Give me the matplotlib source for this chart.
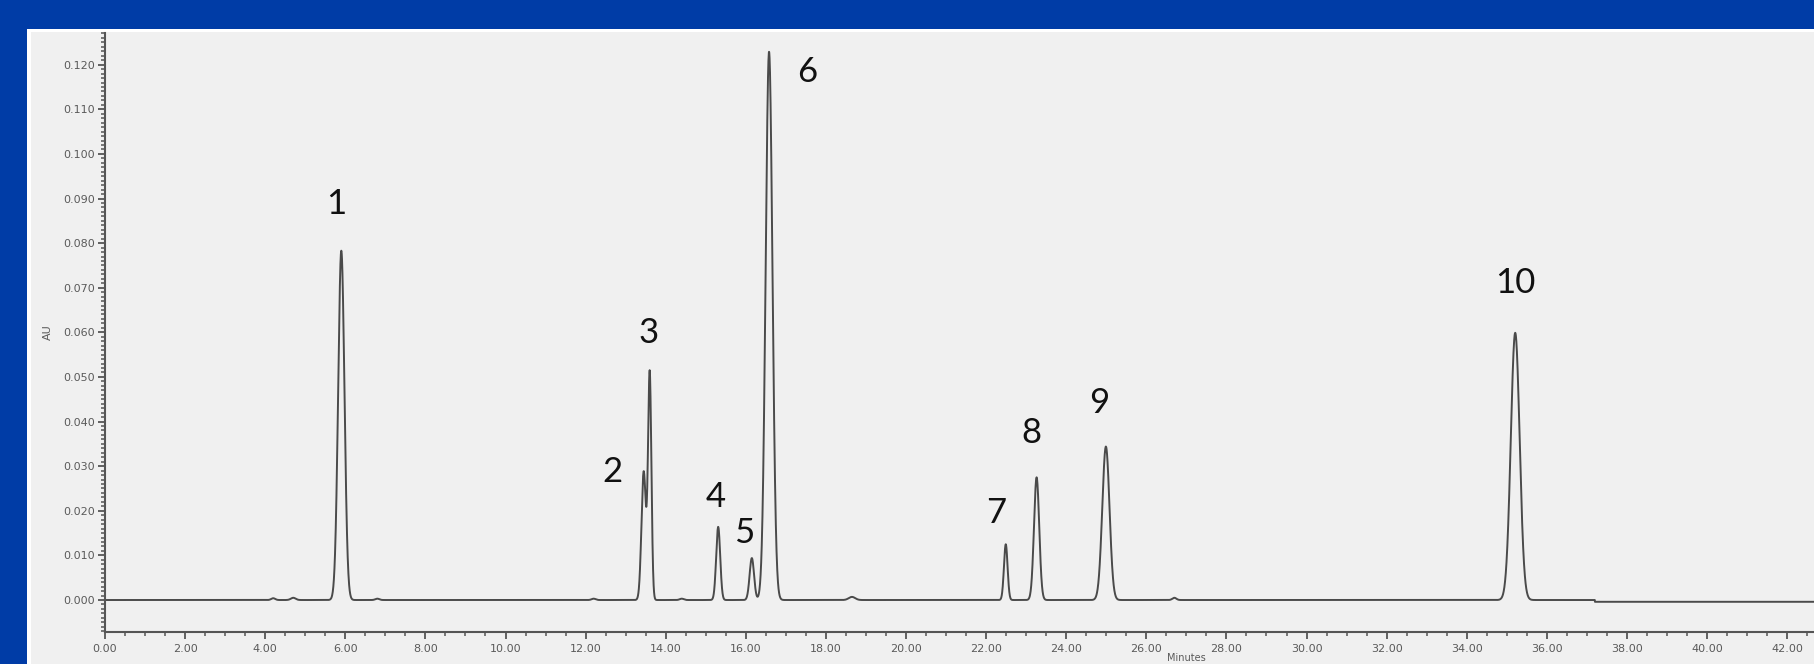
import numpy as np
import matplotlib
matplotlib.use('Agg')
import matplotlib.pyplot as plt
from matplotlib.patches import Rectangle
from matplotlib.ticker import MultipleLocator, FormatStrFormatter
from matplotlib.transforms import blended_transform_factory

# ---- data ----
peak_labels = ['1', '2', '3', '4', '5', '6', '7', '8', '9', '10']
peak_times = [5.90, 13.45, 13.60, 15.31, 16.15, 16.58, 22.49, 23.26, 24.99, 35.21]   # min
peak_heights = [0.0783, 0.0288, 0.0508, 0.0164, 0.0094, 0.1229, 0.0125, 0.0275, 0.0344, 0.0599]  # AU
peak_widths = [0.078, 0.055, 0.042, 0.050, 0.055, 0.085, 0.045, 0.065, 0.090, 0.110]  # sigma, min

# small baseline bumps
bump_times = [4.20, 4.70, 6.80, 12.20, 14.40, 18.65, 26.70]
bump_heights = [0.0004, 0.0005, 0.0003, 0.0003, 0.0003, 0.0007, 0.0005]
bump_widths = [0.05, 0.06, 0.05, 0.05, 0.05, 0.08, 0.05]

# baseline drift step
step_time = 37.2
step_size = -0.0004

# label positions (time, AU)
label_x = [5.78, 12.68, 13.58, 15.25, 15.96, 17.52, 22.25, 23.14, 24.83, 35.20]
label_y = [0.0888, 0.0288, 0.0599, 0.0232, 0.0150, 0.1184, 0.0195, 0.0375, 0.0441, 0.0711]

x_min, x_max = 0.0, 42.67
y_min, y_max = -0.00717, 0.1271

# ---- figure ----
W, H = 1814, 664
fig = plt.figure(figsize=(W / 100, H / 100), dpi=100)
fig.patch.set_facecolor('#003ca6')

# background panel drawn in a full-figure axes underneath
bg = fig.add_axes([0, 0, 1, 1], zorder=-10)
bg.set_xlim(0, W)
bg.set_ylim(H, 0)
bg.axis('off')
bg.add_patch(Rectangle((27, 29), W - 27, H - 29, facecolor='white', edgecolor='none'))
bg.add_patch(Rectangle((31, 32), W - 31, H - 32, facecolor='#f0f0f0', edgecolor='none'))

ax = fig.add_axes([105 / W, (H - 632) / H, (W - 105) / W, (632 - 33) / H], zorder=1)
ax.set_facecolor('none')

t = np.linspace(x_min, x_max, 12000)
signal = np.zeros_like(t)
for c, h, s in zip(peak_times, peak_heights, peak_widths):
    signal += h * np.exp(-0.5 * ((t - c) / s) ** 2)
for c, h, s in zip(bump_times, bump_heights, bump_widths):
    signal += h * np.exp(-0.5 * ((t - c) / s) ** 2)
signal += np.where(t > step_time, step_size, 0.0)

ax.plot(t, signal, color='#4a4a4a', lw=1.4, solid_joinstyle='round')

for lab, lx, ly in zip(peak_labels, label_x, label_y):
    ax.text(lx, ly, lab, fontsize=25, family='Lato', color='#111111',
            ha='center', va='center')

ax.set_xlim(x_min, x_max)
ax.set_ylim(y_min, y_max)

for side in ['top', 'right']:
    ax.spines[side].set_visible(False)
for side in ['left', 'bottom']:
    ax.spines[side].set_color('#555555')
    ax.spines[side].set_linewidth(1.5)

ax.xaxis.set_major_locator(MultipleLocator(2.0))
ax.xaxis.set_minor_locator(MultipleLocator(0.5))
ax.yaxis.set_minor_locator(MultipleLocator(0.001))
ax.xaxis.set_major_formatter(FormatStrFormatter('%.2f'))
ax.yaxis.set_major_formatter(FormatStrFormatter('%.3f'))
ax.set_yticks(np.arange(0, 0.1201, 0.01))

ax.tick_params(axis='both', which='major', direction='out', length=5, width=1.3,
               color='#555555', labelcolor='#5a5a5a', labelsize=8)
ax.tick_params(axis='both', which='minor', direction='out', length=3, width=1.1,
               color='#555555')
ax.tick_params(axis='x', which='major', pad=4)
ax.tick_params(axis='y', which='major', pad=2)

ax.set_ylabel('AU', fontsize=8, color='#5a5a5a', labelpad=8)

trans = blended_transform_factory(ax.transData, fig.transFigure)
ax.text(27.0, 1 / H, 'Minutes', transform=trans, fontsize=7, color='#5a5a5a',
        ha='center', va='bottom', clip_on=False)

fig.savefig('out.png', dpi=100, facecolor=fig.get_facecolor())
